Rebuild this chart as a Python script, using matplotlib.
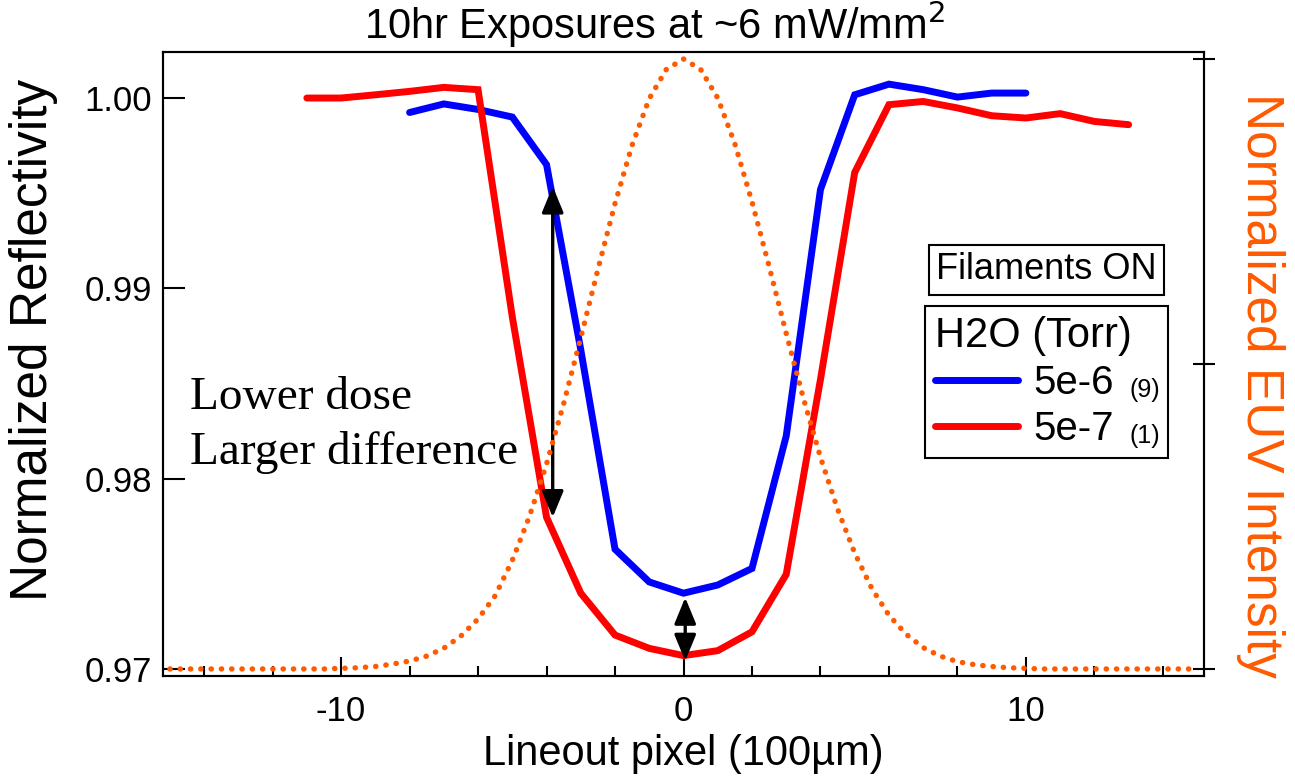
import matplotlib
matplotlib.use("Agg")
import matplotlib.pyplot as plt
from matplotlib.ticker import MultipleLocator, FormatStrFormatter
from matplotlib.patches import Rectangle

plt.rcParams['font.family'] = ['Liberation Sans', 'DejaVu Sans']
plt.rcParams['axes.unicode_minus'] = False

# reflectivity lineouts (pixel, normalized reflectivity)
blue_x = [-8, -7, -6, -5, -4, -3, -2, -1, 0, 1, 2, 3, 4, 5, 6, 7, 8, 9, 10]
blue_y = [0.99924, 0.99969, 0.99940, 0.99900, 0.99650, 0.98677, 0.97629, 0.97457,
          0.97398, 0.97441, 0.97528, 0.98224, 0.99519, 1.00017, 1.00073, 1.00044,
          1.00005, 1.00026, 1.00026]
red_x = [-11, -10, -9, -8, -7, -6, -5, -4, -3, -2, -1, 0, 1, 2, 3, 4, 5, 6, 7, 8,
         9, 10, 11, 12, 13]
red_y = [1.00000, 1.00000, 1.00017, 1.00035, 1.00056, 1.00044, 0.98850, 0.97797,
         0.97398, 0.97178, 0.97108, 0.97070, 0.97096, 0.97195, 0.97497, 0.98521,
         0.99609, 0.99965, 0.99982, 0.99948, 0.99907, 0.99895, 0.99918, 0.99877,
         0.99860]

# EUV intensity profile (right axis)
euv_x = [-15, -14.5, -14, -13.5, -13, -12.5, -12, -11.5, -11, -10.5,
         -10, -9.5, -9, -8.5, -8, -7.5, -7, -6.5, -6, -5.5,
         -5, -4.5, -4, -3.5, -3, -2.5, -2, -1.5, -1, -0.5,
         0, 0.5, 1, 1.5, 2, 2.5, 3, 3.5, 4, 4.5,
         5, 5.5, 6, 6.5, 7, 7.5, 8, 8.5, 9, 9.5,
         10, 10.5, 11, 11.5, 12, 12.5, 13, 13.5, 14, 14.5, 15]
euv_y = [0, 0, 0, 0, 0, 0, 0, 0, 0, 0,
         0.001, 0.002, 0.004, 0.008, 0.013, 0.021, 0.034, 0.054, 0.082, 0.120,
         0.178, 0.250, 0.336, 0.435, 0.543, 0.655, 0.763, 0.859, 0.935, 0.983,
         1.000, 0.983, 0.936, 0.861, 0.766, 0.660, 0.550, 0.444, 0.347, 0.262,
         0.190, 0.132, 0.088, 0.057, 0.035, 0.021, 0.012, 0.007, 0.004, 0.002,
         0.001, 0, 0, 0, 0, 0, 0, 0, 0, 0, 0]

labels = ['5e-6', '5e-7']
counts = ['(9)', '(1)']
orange = '#FF5A00'

fig = plt.figure(figsize=(12.95, 7.84), dpi=100)
ax = fig.add_axes([0.1259, 0.1378, 0.8038, 0.7959])
ax2 = ax.twinx()

l1, = ax.plot(blue_x, blue_y, color='#0000FF', lw=5, solid_capstyle='round', solid_joinstyle='miter')
l2, = ax.plot(red_x, red_y, color='#FF0000', lw=5, solid_capstyle='round', solid_joinstyle='miter')
ax2.plot(euv_x, euv_y, color=orange, lw=3.9, linestyle=(0, (0.05, 1.85)), dash_capstyle='round')

ax.set_xlim(-15.2, 15.2)
ax.set_ylim(0.96963, 1.00242)
ax2.set_ylim(-0.0115, 1.0115)

ax.set_yticks([0.97, 0.98, 0.99, 1.00])
ax.yaxis.set_major_formatter(FormatStrFormatter('%.2f'))
ax.set_xticks([-10, 0, 10])
ax.xaxis.set_minor_locator(MultipleLocator(2))
ax.tick_params(axis='y', which='both', direction='in', length=16, width=1.5, labelsize=25, pad=8, right=False)
ax.tick_params(axis='x', which='major', direction='in', length=14, width=1.5, labelsize=25, pad=14, top=False)
ax.tick_params(axis='x', which='minor', direction='in', length=7, width=1.5, top=False)
ax2.set_yticks([0, 0.5, 1])
ax2.tick_params(axis='y', direction='inout', length=16, width=1.5, labelright=False)
for a in (ax, ax2):
    for s in a.spines.values():
        s.set_linewidth(1.5)

ax.set_ylabel('Normalized Reflectivity', fontsize=37, va='center')
ax.yaxis.set_label_coords(-0.124, 0.538)
ax.set_xlabel('Lineout pixel (100µm)', fontsize=30, va='baseline')
ax.xaxis.set_label_coords(0.5, -0.1426)
ax2.set_ylabel('Normalized EUV Intensity', fontsize=37, color=orange, rotation=-90, va='center')
ax2.yaxis.set_label_coords(1.054, 0.465)

fig.text(655 / 1295, 1 - 24 / 784, '10hr Exposures at ~6 mW/mm$^2$', fontsize=30, ha='center', va='center')

# annotation
ax.text(-14.42, 0.98364, 'Lower dose', fontsize=34, family='Liberation Serif', va='baseline')
ax.text(-14.42, 0.98075, 'Larger difference', fontsize=34, family='Liberation Serif', va='baseline')
arrow = dict(arrowstyle='<|-|>,head_length=0.8,head_width=0.33', color='black', lw=2.4,
             shrinkA=0, shrinkB=0, mutation_scale=20)
ax.annotate('', xy=(-3.82, 0.99536), xytext=(-3.82, 0.97797), arrowprops=arrow)
ax.annotate('', xy=(0.05, 0.97375), xytext=(0.05, 0.97042), arrowprops=arrow)

ax2.text(0.849, 0.6506, 'Filaments ON', transform=ax2.transAxes, fontsize=26, ha='center', va='center',
         bbox=dict(boxstyle='square,pad=0.2', fc='white', ec='black', lw=1.5))

leg = ax2.legend([l1, l2], labels, title='H2O (Torr)', alignment='left', fontsize=29,
                 title_fontsize=30, loc='upper left', bbox_to_anchor=(0.732, 0.5934),
                 borderaxespad=0, frameon=False, handlelength=2.05, handletextpad=0.4,
                 borderpad=0.25, labelspacing=0.2)

fig.canvas.draw()
r = fig.canvas.get_renderer()
W, H = fig.bbox.width, fig.bbox.height
right = 0
for txt, c in zip(leg.get_texts(), counts):
    bb = txt.get_window_extent(r)
    t = fig.text((bb.x1 + 15) / W, bb.y0 / H, c, fontsize=18, ha='left', va='bottom')
    right = max(right, t.get_window_extent(r).x1)
lb = leg.get_window_extent(r)
fig.patches.append(Rectangle((lb.x0 / W, lb.y0 / H), (right + 8 - lb.x0) / W, (lb.y1 - lb.y0) / H,
                             transform=fig.transFigure, fill=False, ec='black', lw=1.5, zorder=5))

fig.savefig('out.png', dpi=100)
